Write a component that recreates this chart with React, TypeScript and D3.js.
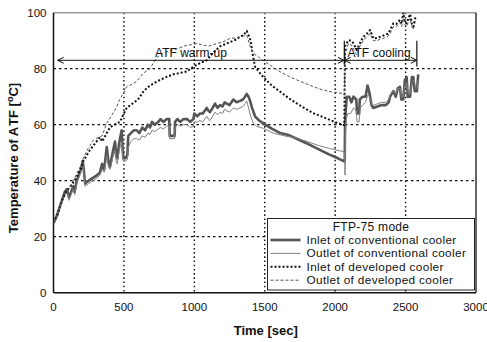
import React from "react";
import * as d3 from "d3";

type P = [number, number];

const xTicks = [0, 500, 1000, 1500, 2000, 2500, 3000];
const yTicks = [0, 20, 40, 60, 80, 100];

const legendTitle = "FTP-75 mode";
const seriesNames = [
  "Inlet of conventional cooler",
  "Outlet of conventional cooler",
  "Inlet of developed cooler",
  "Outlet of developed cooler",
];

const convInlet: P[] = [[0,25],[20,27],[40,30],[60,33],[80,36],[95,37],[110,34],[125,36],[140,38],[150,36],[165,40],[180,42],[195,44],[207,47],[215,44],[224,39],[250,40],[280,41],[310,42],[330,43],[345,46],[360,44],[378,52],[390,47],[401,45],[420,50],[437,54],[445,49],[453,48],[465,53],[472,55],[484,58],[490,52],[496,48],[510,48],[524,49],[531,56],[550,57],[570,58],[591,58],[610,57],[630,59],[650,58],[670,60],[685,59],[700,61],[720,60],[744,61],[760,62],[780,61],[804,62],[822,62],[825,56],[860,56],[863,61],[880,62],[900,61],[922,62],[950,62],[970,61],[993,62],[1000,64],[1020,63],[1040,64],[1060,64],[1088,66],[1100,65],[1111,64.5],[1130,66],[1147,67.5],[1165,66],[1183,67],[1200,66.5],[1215,68],[1230,67.5],[1250,67],[1277,69],[1300,68],[1325,68.5],[1345,69],[1360,70],[1372,71],[1385,70],[1396,68.5],[1410,66],[1431,63],[1460,61.5],[1490,60.5],[1550,58.6],[1610,57],[1670,56.3],[1727,55],[1800,53.3],[1880,51.3],[1960,49.3],[2020,48],[2068,46.8],[2070,60],[2075,65],[2082,70],[2100,70],[2115,68],[2130,70],[2150,69],[2155,64],[2170,64],[2175,69],[2195,70],[2215,70],[2230,74],[2245,71],[2258,67],[2270,66],[2300,66.5],[2330,67],[2360,67],[2380,68],[2390,70],[2413,72],[2430,70],[2445,73],[2460,73.5],[2470,69],[2484,69],[2495,76],[2508,77],[2515,70],[2532,70],[2545,77],[2555,77],[2565,72],[2580,72],[2590,78]];

const convOutlet: P[] = [[0,25],[20,27],[40,30],[60,32],[80,35],[95,36],[110,33],[125,35],[140,37],[150,35],[165,39],[180,41],[195,43],[207,46],[215,43],[224,38],[250,39],[280,40],[310,41],[330,42],[345,44],[360,43],[378,49],[390,45],[401,44],[420,48],[437,51],[445,47],[453,46],[465,50],[472,52],[484,54],[490,50],[496,47],[510,47],[524,47.5],[531,52],[550,54],[570,55],[591,55],[610,54.5],[630,56],[650,55.5],[670,57],[685,56.5],[700,58],[720,57.5],[744,58.5],[760,59],[780,58.5],[804,59.5],[822,59.5],[825,55],[860,55],[863,59],[880,60],[900,59.5],[922,60],[950,60],[970,59],[993,59.5],[1000,61],[1020,61],[1040,61.5],[1060,61],[1088,63],[1100,62],[1111,61.5],[1130,63],[1147,64.5],[1165,63.5],[1183,64.5],[1200,64],[1215,65.5],[1230,65],[1250,64.5],[1277,66],[1300,65.5],[1325,66],[1345,66.5],[1360,67.5],[1372,68.5],[1385,66],[1400,63],[1420,60.5],[1440,59.5],[1490,58.7],[1560,57],[1640,56],[1727,55.2],[1800,54],[1880,52.6],[1960,51.5],[2058,50.4],[2068,50],[2070,42],[2072,55],[2078,62],[2090,64],[2110,64],[2130,66],[2150,65],[2155,61],[2170,61],[2178,66],[2195,67],[2215,68],[2235,71],[2250,69],[2262,67],[2280,67],[2300,67.5],[2330,68],[2360,68],[2380,69],[2395,71],[2413,72],[2430,71],[2445,73],[2460,73],[2470,70],[2484,70],[2495,74],[2508,75],[2520,71],[2535,71],[2545,75],[2560,76],[2570,73],[2580,73],[2590,76]];

const devInlet: P[] = [[0,25],[30,28],[60,33],[90,36],[120,38],[150,40],[180,43],[200,45],[212,47],[235,49],[259,51],[290,53],[330,55.5],[345,54],[378,57],[400,59],[430,60],[472,61],[490,63],[520,66],[560,67.5],[600,69],[614,70],[640,72],[685,74],[720,75],[756,76],[800,77],[851,78],[900,78.5],[946,79],[993,80.7],[1040,82],[1088,83],[1130,85.5],[1183,88],[1230,89],[1277,90],[1300,90.5],[1325,91.5],[1350,92],[1372,93.5],[1385,92],[1400,90],[1415,85],[1431,80.7],[1460,78.8],[1490,77],[1550,74],[1609,71.8],[1670,69.5],[1727,67.6],[1790,65.7],[1845,64.1],[1910,62.8],[1964,61.7],[2020,60.5],[2065,59.8],[2070,88],[2094,90.2],[2115,90],[2130,89],[2153,86.7],[2175,89],[2200,91.4],[2225,92.5],[2248,93.8],[2271,90.8],[2295,91],[2319,91.4],[2350,92],[2375,92.5],[2390,93.8],[2413,96.2],[2435,96],[2460,97.4],[2472,96],[2484,100],[2496,96.5],[2508,96.2],[2520,98],[2532,99.5],[2545,96],[2555,95],[2568,98],[2580,98.6]];

const devOutlet: P[] = [[0,25],[30,28],[60,33],[90,36],[120,38],[150,41],[180,44],[200,46],[212,48],[240,51],[283,54.5],[320,55.5],[345,56],[378,60.5],[410,63],[449,66.4],[470,69],[496,71.2],[520,73.6],[560,74.5],[591,75.5],[638,78.4],[685,80],[733,84],[780,85.5],[830,86.5],[875,87],[920,88],[970,88.5],[1017,89],[1060,88.5],[1100,88],[1160,89],[1200,89.5],[1253,90.8],[1300,91],[1340,91.5],[1372,92],[1396,88],[1419,85.5],[1460,84],[1502,82.5],[1550,80.8],[1609,78.9],[1670,77.3],[1727,76],[1790,74.7],[1845,73.6],[1900,72.6],[1964,71.8],[2047,71.2],[2065,70.5],[2070,85],[2094,89],[2115,88.5],[2130,87],[2153,85],[2175,88],[2200,90],[2225,91.5],[2248,92.5],[2271,90],[2295,90],[2319,90.5],[2350,91],[2375,91.5],[2390,92.5],[2413,95],[2435,95],[2460,96.5],[2472,95],[2484,98],[2496,95.5],[2508,95],[2520,97],[2532,98],[2545,95],[2555,94],[2568,97],[2580,97.5]];

// annotation ranges (seconds) and level (deg C)
const warmupRange = [30, 2062];
const coolingRange = [2068, 2580];
const arrowLevel = 83;
const barRange = [81.5, 90];

const W = 487, H = 342;
const M = { left: 53.5, right: 11, top: 12.7, bottom: 49.3 };

const styles = [
  { stroke: "#555", width: 2.6, dash: "" },
  { stroke: "#808080", width: 1, dash: "" },
  { stroke: "#111", width: 2, dash: "2,2" },
  { stroke: "#555", width: 1, dash: "3,2" },
];

export default function App() {
  const x = d3.scaleLinear().domain([0, 3000]).range([M.left, W - M.right]);
  const y = d3.scaleLinear().domain([0, 100]).range([H - M.bottom, M.top]);
  const line = d3.line<P>().x(d => x(d[0])).y(d => y(d[1]));
  const data = [convInlet, convOutlet, devInlet, devOutlet];
  const font = "'Liberation Sans', Arial, sans-serif";
  const x0 = M.left, x1 = W - M.right, y0 = H - M.bottom, y1 = M.top;

  const ay = y(arrowLevel);
  const head = (px: number, dir: number) =>
    `M${px + dir * 6},${ay - 3} L${px},${ay} L${px + dir * 6},${ay + 3}`;

  const lx = 267.5, ly = 218.5, lw = 207, lh = 71.5;
  const rowH = 13.4;
  return (
    <svg width={W} height={H} style={{ position: "absolute", left: 0, top: 0, background: "#fff" }} fontFamily={font}>
      <defs>
        <clipPath id="plot">
          <rect x={x0} y={y1} width={x1 - x0} height={y0 - y1} />
        </clipPath>
      </defs>
      {/* grid */}
      {xTicks.filter(t => t > 0 && t < 3000).map(t => (
        <line key={"gx" + t} x1={x(t)} x2={x(t)} y1={y1} y2={y0} stroke="#111" strokeWidth={1.4} strokeDasharray="1.6,2.6" />
      ))}
      {yTicks.filter(t => t > 0 && t < 100).map(t => (
        <line key={"gy" + t} x1={x0} x2={x1} y1={y(t)} y2={y(t)} stroke="#111" strokeWidth={1.2} strokeDasharray="2.5,3" />
      ))}
      {/* frame */}
      <line x1={x0} x2={x1} y1={y1} y2={y1} stroke="#999" strokeWidth={1.5} />
      <line x1={x1} x2={x1} y1={y1} y2={y0} stroke="#333" strokeWidth={1.5} />
      <line x1={x0} x2={x0} y1={y1} y2={y0} stroke="#111" strokeWidth={1.5} />
      <line x1={x0} x2={x1} y1={y0} y2={y0} stroke="#111" strokeWidth={1.5} />
      {/* series */}
      <g clipPath="url(#plot)">
        {data.map((d, i) => (
          <path key={i} d={line(d) || ""} fill="none" stroke={styles[i].stroke} strokeWidth={styles[i].width}
            strokeDasharray={styles[i].dash || undefined} strokeLinejoin="round" />
        ))}
      </g>
      {/* tick labels */}
      {yTicks.map(t => (
        <text key={"ty" + t} x={x0 - 7} y={y(t) + 4} textAnchor="end" fontSize={11.5} fill="#111">{t}</text>
      ))}
      {xTicks.map(t => (
        <text key={"tx" + t} x={x(t)} y={y0 + 18} textAnchor="middle" fontSize={11.5} fill="#111">{t}</text>
      ))}
      {/* axis titles */}
      <text x={(x0 + x1) / 2 + 1} y={335} textAnchor="middle" fontSize={13} fontWeight="bold" fill="#111">Time [sec]</text>
      <text transform={`translate(18,158) rotate(-90)`} textAnchor="middle" fontSize={13} fontWeight="bold" fill="#111">
        Temperature of A<tspan dx={2}>TF [</tspan><tspan fontSize={9} dy={-5}>o</tspan><tspan dy={5}>C]</tspan>
      </text>
      {/* annotations */}
      <line x1={x(warmupRange[0])} x2={x(warmupRange[1])} y1={ay} y2={ay} stroke="#111" strokeWidth={1} />
      <path d={head(x(warmupRange[0]), 1)} fill="none" stroke="#111" strokeWidth={1} />
      <path d={head(x(warmupRange[1]), -1)} fill="none" stroke="#111" strokeWidth={1} />
      <line x1={x(coolingRange[0])} x2={x(coolingRange[1])} y1={ay} y2={ay} stroke="#111" strokeWidth={1} />
      <path d={head(x(coolingRange[0]), 1)} fill="none" stroke="#111" strokeWidth={1} />
      <path d={head(x(coolingRange[1]), -1)} fill="none" stroke="#111" strokeWidth={1} />
      <line x1={x(2065)} x2={x(2065)} y1={y(barRange[0])} y2={y(barRange[1])} stroke="#111" strokeWidth={1.2} />
      <line x1={x(coolingRange[1])} x2={x(coolingRange[1])} y1={y(barRange[0]) + 2} y2={y(barRange[1])} stroke="#111" strokeWidth={1.2} />
      <text x={191} y={57} textAnchor="middle" fontSize={12} fill="#111">ATF warm-up</text>
      <text x={379} y={57} textAnchor="middle" fontSize={12} fill="#111">ATF cooling</text>
      {/* legend */}
      <rect x={lx} y={ly} width={lw} height={lh} fill="#fff" stroke="#222" strokeWidth={1} />
      <text x={lx + lw / 2} y={ly + 12.5} textAnchor="middle" fontSize={12} letterSpacing={0.3} fill="#111">{legendTitle}</text>
      {seriesNames.map((n, i) => (
        <g key={n}>
          <line x1={lx + 3} x2={lx + 33} y1={ly + 21.5 + i * rowH} y2={ly + 21.5 + i * rowH}
            stroke={styles[i].stroke} strokeWidth={styles[i].width} strokeDasharray={styles[i].dash || undefined} />
          <text x={lx + 39} y={ly + 25.5 + i * rowH} fontSize={11.8} letterSpacing={0.35} fill="#111">{n}</text>
        </g>
      ))}
    </svg>
  );
}
